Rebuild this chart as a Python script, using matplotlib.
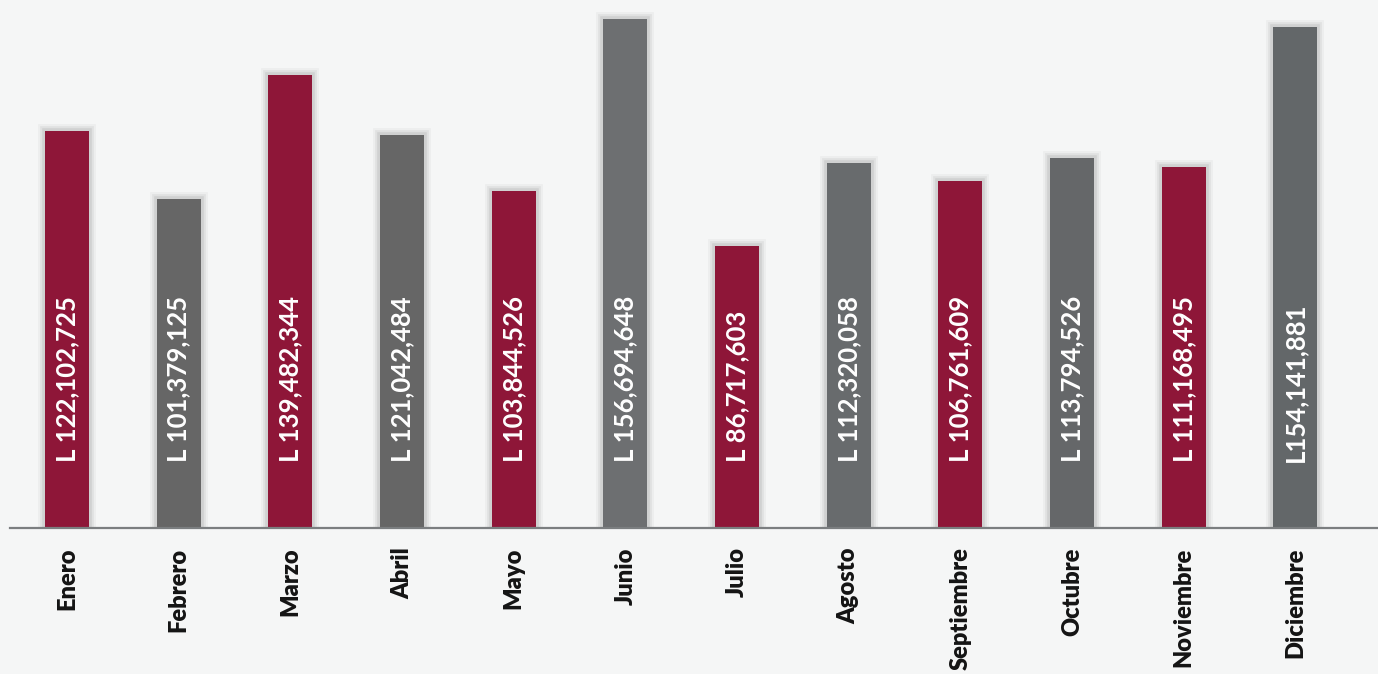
import matplotlib
matplotlib.use("Agg")
import matplotlib.pyplot as plt
import matplotlib.patheffects as pe

months = ["Enero", "Febrero", "Marzo", "Abril", "Mayo", "Junio", "Julio",
          "Agosto", "Septiembre", "Octubre", "Noviembre", "Diciembre"]
values = [122102725, 101379125, 139482344, 121042484, 103844526, 156694648,
          86717603, 112320058, 106761609, 113794526, 111168495, 154141881]
currency_prefix = ["L "] * 11 + ["L"]
bar_colors = ["#8e1638", "#666666", "#8e1638", "#666666", "#8e1638", "#6d6f71",
              "#8e1638", "#686b6d", "#8e1638", "#656769", "#8e1638", "#636769"]

W, H = 1378, 674
fig = plt.figure(figsize=(W / 100, H / 100), dpi=100, facecolor="#f5f6f6")
ax = fig.add_axes([10 / W, (H - 528) / H, (W - 10) / W, 528 / H])
ax.set_facecolor("none")

x = list(range(len(months)))
shadow = [pe.Stroke(linewidth=10, foreground="black", alpha=0.03),
          pe.Stroke(linewidth=7, foreground="black", alpha=0.05),
          pe.Stroke(linewidth=4, foreground="black", alpha=0.07),
          pe.Normal()]
bars = ax.bar(x, values, width=0.395, color=bar_colors, linewidth=0, zorder=2)
for b in bars:
    b.set_path_effects(shadow)

for xi, v, p in zip(x, values, currency_prefix):
    ax.annotate(f"{p}{v:,}", xy=(xi, 0), xytext=(0, 47.5),
                textcoords="offset points", rotation=90,
                ha="center", va="bottom", color="white",
                fontsize=18.5, family="Lato", fontweight="bold", zorder=3)

ax.set_xlim(-0.51, 11.74)
ax.set_ylim(0, 162.5e6)
ax.set_yticks([])
ax.set_xticks(x)
ax.set_xticklabels(months, rotation=90, ha="center", va="top",
                   fontsize=17, family="Lato", fontweight="heavy", color="#141414")
ax.tick_params(axis="x", length=0, pad=14)

for s in ("top", "left", "right"):
    ax.spines[s].set_visible(False)
ax.spines["bottom"].set_color("#7b7e80")
ax.spines["bottom"].set_linewidth(1.6)

fig.savefig("out.png", dpi=100, facecolor=fig.get_facecolor())
